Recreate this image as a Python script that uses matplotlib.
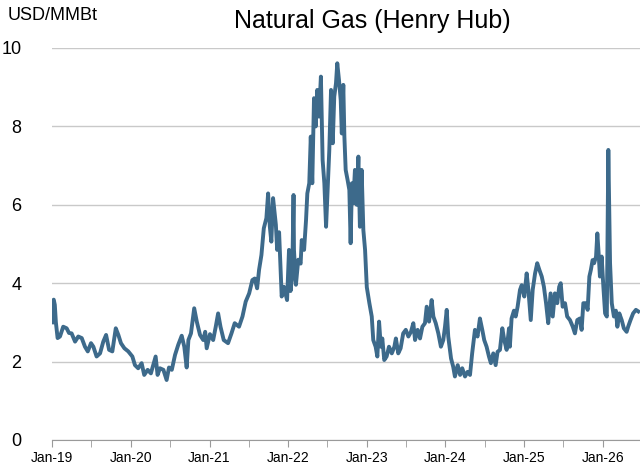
import pandas as pd
import matplotlib.pyplot as plt
import matplotlib.dates as mdates

plt.rcParams['font.family'] = ['Liberation Sans', 'DejaVu Sans']

# front-month Henry Hub (USD/MMBtu)
dates = [
    # 2019
    '2019-01-02', '2019-01-05', '2019-01-09', '2019-01-14', '2019-01-19', '2019-01-27', '2019-02-07',
    '2019-02-22', '2019-03-10', '2019-03-21', '2019-04-02', '2019-04-18', '2019-05-03', '2019-05-19',
    '2019-06-03', '2019-06-16', '2019-07-01', '2019-07-12', '2019-07-27', '2019-08-12', '2019-08-27',
    '2019-09-09', '2019-09-23', '2019-10-08', '2019-10-24', '2019-11-05', '2019-11-17', '2019-12-03',
    '2019-12-21',
    # 2020
    '2020-01-09', '2020-01-21', '2020-02-05', '2020-02-21', '2020-03-04', '2020-03-20', '2020-04-04',
    '2020-04-15', '2020-04-26', '2020-05-05', '2020-05-16', '2020-06-01', '2020-06-16', '2020-06-27',
    '2020-07-10', '2020-07-25', '2020-08-09', '2020-08-25', '2020-09-06', '2020-09-17', '2020-09-25',
    '2020-10-07', '2020-10-22', '2020-11-03', '2020-11-18', '2020-12-03', '2020-12-12', '2020-12-19',
    # 2021
    '2021-01-03', '2021-01-18', '2021-01-30', '2021-02-10', '2021-02-21', '2021-03-08', '2021-03-28',
    '2021-04-13', '2021-04-28', '2021-05-18', '2021-06-03', '2021-06-18', '2021-07-04', '2021-07-19',
    '2021-07-30', '2021-08-10', '2021-08-19', '2021-08-30', '2021-09-10', '2021-09-22', '2021-09-30',
    '2021-10-08', '2021-10-15', '2021-10-23', '2021-11-05', '2021-11-11', '2021-11-20', '2021-11-28',
    '2021-12-02', '2021-12-12', '2021-12-21', '2021-12-27',
    # 2022
    '2022-01-05', '2022-01-12', '2022-01-20', '2022-01-26', '2022-01-28', '2022-02-06', '2022-02-17',
    '2022-02-28', '2022-03-05', '2022-03-16', '2022-03-25', '2022-03-31', '2022-04-09', '2022-04-16',
    '2022-04-23', '2022-05-01', '2022-05-09', '2022-05-16', '2022-05-24', '2022-06-02', '2022-06-10',
    '2022-06-18', '2022-06-26', '2022-07-03', '2022-07-11', '2022-07-19', '2022-07-27', '2022-08-03',
    '2022-08-11', '2022-08-17', '2022-08-25', '2022-09-02', '2022-09-07', '2022-09-14', '2022-09-19',
    '2022-09-25', '2022-10-04', '2022-10-12', '2022-10-18', '2022-10-24', '2022-10-30', '2022-11-07',
    '2022-11-15', '2022-11-23', '2022-11-30', '2022-12-08', '2022-12-16', '2022-12-24',
    # 2023
    '2023-01-01', '2023-01-13', '2023-01-24', '2023-01-31', '2023-02-11', '2023-02-19', '2023-02-27',
    '2023-03-07', '2023-03-14', '2023-03-23', '2023-04-03', '2023-04-14', '2023-04-27', '2023-05-09',
    '2023-05-16', '2023-05-27', '2023-06-07', '2023-06-19', '2023-07-01', '2023-07-13', '2023-07-25',
    '2023-08-05', '2023-08-13', '2023-08-25', '2023-09-05', '2023-09-16', '2023-09-28', '2023-10-06',
    '2023-10-17', '2023-10-29', '2023-11-06', '2023-11-17', '2023-11-29', '2023-12-11', '2023-12-22',
    '2023-12-30',
    # 2024
    '2024-01-07', '2024-01-14', '2024-01-27', '2024-02-06', '2024-02-14', '2024-02-27', '2024-03-09',
    '2024-03-19', '2024-04-01', '2024-04-13', '2024-04-24', '2024-05-04', '2024-05-17', '2024-05-29',
    '2024-06-09', '2024-06-20', '2024-06-29', '2024-07-10', '2024-07-21', '2024-07-30', '2024-08-10',
    '2024-08-21', '2024-08-30', '2024-09-10', '2024-09-21', '2024-09-30', '2024-10-11', '2024-10-22',
    '2024-10-26', '2024-11-03', '2024-11-14', '2024-11-22', '2024-12-01', '2024-12-12', '2024-12-20',
    # 2025
    '2025-01-01', '2025-01-12', '2025-01-20', '2025-01-31', '2025-02-09', '2025-02-20', '2025-03-02',
    '2025-03-12', '2025-03-23', '2025-04-02', '2025-04-12', '2025-04-22', '2025-05-03', '2025-05-13',
    '2025-05-23', '2025-06-03', '2025-06-12', '2025-06-19', '2025-06-28', '2025-07-09', '2025-07-19',
    '2025-08-01', '2025-08-14', '2025-08-24', '2025-09-04', '2025-09-16', '2025-09-24', '2025-10-02',
    '2025-10-14', '2025-10-22', '2025-10-30', '2025-11-06', '2025-11-14', '2025-11-21', '2025-11-30',
    '2025-12-06', '2025-12-12', '2025-12-18', '2025-12-26',
    # 2026
    '2026-01-03', '2026-01-11', '2026-01-19', '2026-01-26', '2026-02-03', '2026-02-11', '2026-02-21',
    '2026-03-02', '2026-03-09', '2026-03-18', '2026-03-29', '2026-04-08', '2026-04-21', '2026-04-28',
    '2026-05-09', '2026-05-21', '2026-06-03', '2026-06-14',
]

prices = [
    # 2019
    3.00, 3.55, 3.58, 3.45, 3.00, 2.60, 2.64,
    2.89, 2.85, 2.73, 2.72, 2.51, 2.64, 2.60,
    2.38, 2.26, 2.47, 2.38, 2.13, 2.21, 2.51,
    2.68, 2.30, 2.26, 2.85, 2.68, 2.47, 2.34,
    2.26,
    # 2020
    2.13, 1.91, 1.83, 1.96, 1.66, 1.79, 1.70,
    1.91, 2.13, 1.66, 1.83, 1.79, 1.53, 1.85,
    1.79, 2.17, 2.43, 2.66, 2.38, 1.85, 2.55,
    2.72, 3.36, 3.02, 2.68, 2.55, 2.76, 2.34,
    # 2021
    2.70, 2.55, 2.89, 3.23, 2.89, 2.55, 2.47,
    2.72, 2.98, 2.89, 3.15, 3.53, 3.74, 4.08,
    4.12, 3.87, 4.34, 4.72, 5.40, 5.66, 6.29,
    5.44, 5.06, 6.17, 5.49, 4.85, 5.30, 4.25,
    3.66, 3.91, 3.70, 3.57,
    # 2022
    4.85, 3.80, 4.20, 6.25, 4.85, 3.96, 4.60,
    4.50, 5.10, 4.85, 5.61, 6.29, 6.55, 7.74,
    6.55, 8.72, 8.00, 8.93, 8.25, 9.27, 7.14,
    6.55, 5.44, 6.38, 7.40, 8.93, 7.57, 8.76,
    9.10, 9.61, 9.18, 8.67, 7.82, 9.06, 7.74,
    6.89, 6.63, 6.38, 5.02, 6.55, 6.04, 6.89,
    6.00, 7.23, 5.44, 6.89, 5.36, 4.85,
    # 2023
    3.90, 3.49, 3.15, 2.55, 2.38, 2.13, 3.02,
    2.38, 2.59, 2.04, 2.13, 2.38, 2.21, 2.38,
    2.59, 2.21, 2.34, 2.72, 2.81, 2.64, 2.76,
    2.98, 2.55, 2.81, 2.59, 2.89, 2.98, 3.40,
    3.02, 3.57, 3.15, 2.98, 2.72, 2.38, 2.55,
    2.89,
    # 2024
    3.32, 2.64, 2.08, 1.87, 1.62, 1.91, 1.66,
    1.83, 1.62, 1.74, 1.66, 2.21, 2.81, 2.64,
    3.10, 2.81, 2.55, 2.38, 2.13, 1.96, 2.21,
    1.91, 2.25, 2.30, 2.85, 2.55, 2.30, 2.85,
    2.38, 3.10, 3.30, 3.15, 3.40, 3.83, 3.95,
    # 2025
    3.66, 4.25, 3.83, 3.06, 3.83, 4.25, 4.51,
    4.34, 4.17, 3.91, 3.49, 2.98, 3.74, 3.15,
    3.74, 3.49, 3.91, 4.00, 3.40, 3.49, 3.15,
    3.06, 2.89, 2.72, 3.06, 3.10, 2.81, 3.49,
    3.49, 3.32, 4.17, 4.34, 4.59, 4.51, 4.68,
    5.27, 4.76, 4.17, 4.68,
    # 2026
    3.91, 3.23, 3.15, 7.40, 4.51, 3.49, 3.15,
    3.30, 2.89, 3.23, 3.06, 2.85, 2.76, 2.89,
    3.06, 3.23, 3.32, 3.28,
]

x = pd.to_datetime(dates)

fig = plt.figure(figsize=(6.4, 4.66), dpi=100)
ax = fig.add_axes([52 / 640, 1 - 440 / 466, 588 / 640, (440 - 48) / 466])

ax.plot(x, prices, color='#3d6a8b', lw=2.8, solid_joinstyle='round')

ax.set_ylim(0, 10)
ax.set_yticks([0, 2, 4, 6, 8, 10])
ax.set_xlim(pd.Timestamp('2019-01-01'), pd.Timestamp('2026-06-22'))

ax.xaxis.set_major_locator(mdates.YearLocator())
ax.xaxis.set_minor_locator(mdates.MonthLocator(bymonth=7))
ax.xaxis.set_major_formatter(mdates.DateFormatter('%b-%y'))

ax.grid(axis='y', color='#c9c9c9', lw=1)
ax.set_axisbelow(True)
for s in ['top', 'right', 'left']:
    ax.spines[s].set_visible(False)
ax.spines['bottom'].set_color('#9a9a9a')

ax.tick_params(axis='y', length=0, pad=22, labelsize=13)
ax.tick_params(axis='x', which='both', length=5, color='#9a9a9a', labelsize=10, pad=3)

fig.text(8 / 640, 1 - 15 / 466, 'USD/MMBt', fontsize=13, va='center', ha='left')
fig.text(372 / 640, 1 - 21 / 466, 'Natural Gas (Henry Hub)', fontsize=18, va='center', ha='center')

fig.savefig('out.png', dpi=100)
